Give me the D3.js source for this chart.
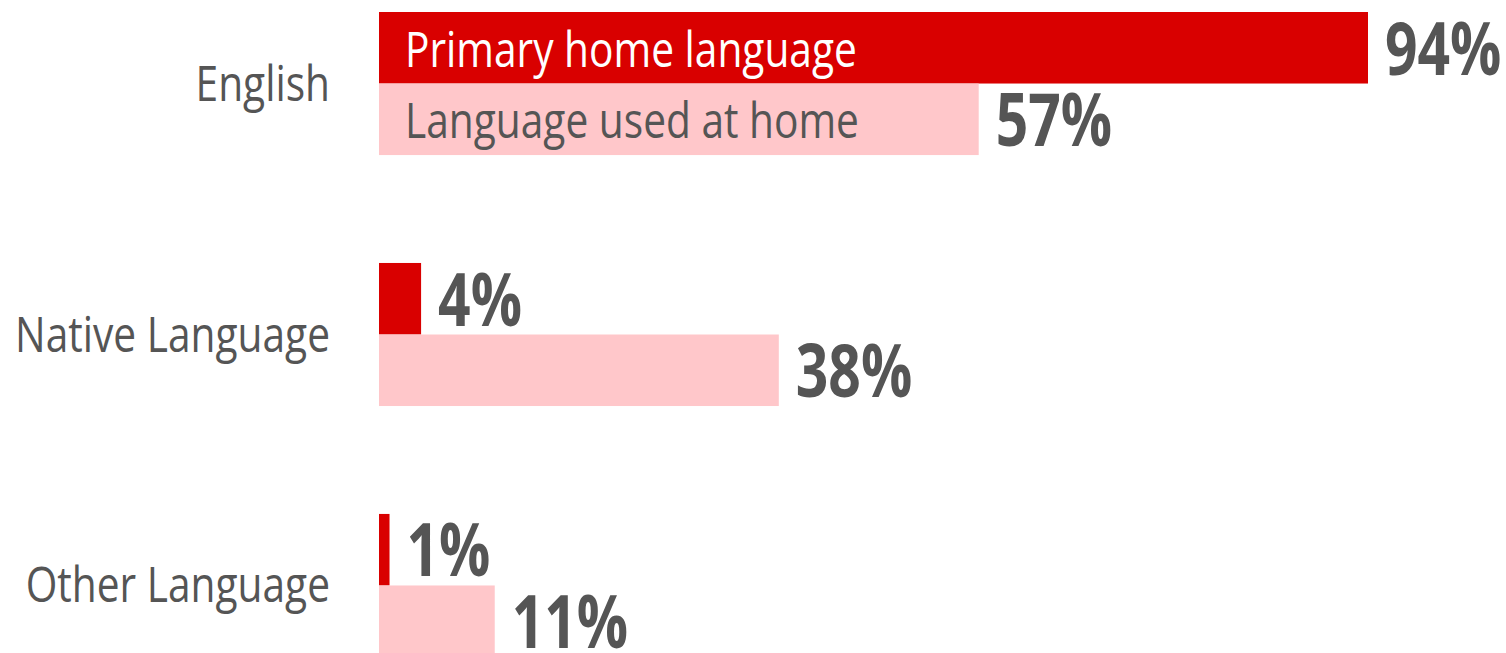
<!DOCTYPE html>
<html>
<head>
<meta charset="utf-8">
<script src="https://cdn.jsdelivr.net/npm/d3@7"></script>
<style>
  body { margin: 0; background: #fff; }
  text { font-family: "Open Sans", sans-serif; }
</style>
</head>
<body>
<script>
var width = 1506;
var height = 653;

// data
var categories = ['English', 'Native Language', 'Other Language'];
var seriesNames = ['Primary home language', 'Language used at home'];
var primaryHome = [94, 4, 1];
var usedAtHome = [57, 38, 11];

var colors = ['#d90000', '#ffc7ca'];
var textGray = '#555555';
var sxBold = 0.78; // horizontal squeeze, source font is narrow
var sxReg = 0.83;

var svg = d3.select('body').append('svg')
    .attr('width', width)
    .attr('height', height);

var x = d3.scaleLinear()
    .domain([0, 94])
    .range([379, 1368]);

var y = d3.scaleBand()
    .domain(categories)
    .range([12, 657])
    .paddingInner(0.43)
    .paddingOuter(0);

var ySeries = d3.scaleBand()
    .domain([0, 1])
    .range([0, y.bandwidth()]);

var rows = categories.map(function(c, i) {
  return { cat: c, values: [primaryHome[i], usedAtHome[i]] };
});

var group = svg.selectAll('g.row')
    .data(rows)
  .enter().append('g')
    .attr('class', 'row')
    .attr('transform', function(d) { return 'translate(0,' + y(d.cat) + ')'; });

// bars
group.selectAll('rect')
    .data(function(d) { return d.values.map(function(v, j) { return { v: v, j: j }; }); })
  .enter().append('rect')
    .attr('x', x(0))
    .attr('y', function(d) { return ySeries(d.j); })
    .attr('width', function(d) { return x(d.v) - x(0); })
    .attr('height', ySeries.bandwidth())
    .attr('fill', function(d) { return colors[d.j]; });

// value labels
group.selectAll('g.val')
    .data(function(d) { return d.values.map(function(v, j) { return { v: v, j: j }; }); })
  .enter().append('g')
    .attr('class', 'val')
    .attr('transform', function(d) {
      return 'translate(' + (x(d.v) + 17) + ',' + (ySeries(d.j) + ySeries.bandwidth() - 9) + ') scale(' + sxBold + ',1)';
    })
  .append('text')
    .attr('font-size', 73)
    .attr('font-weight', 700)
    .attr('fill', textGray)
    .text(function(d) { return d.v + '%'; });

// category labels
group.append('g')
    .attr('transform', 'translate(330,' + (y.bandwidth() / 2 + 17) + ') scale(' + sxReg + ',1)')
  .append('text')
    .attr('text-anchor', 'end')
    .attr('font-size', 49)
    .attr('fill', textGray)
    .text(function(d) { return d.cat; });

// legend written inside the first pair of bars
svg.selectAll('g.legend')
    .data(seriesNames)
  .enter().append('g')
    .attr('class', 'legend')
    .attr('transform', function(d, j) {
      return 'translate(405,' + (y(categories[0]) + ySeries(j) + ySeries.bandwidth() - 17) + ') scale(' + sxReg + ',1)';
    })
  .append('text')
    .attr('font-size', 49)
    .attr('fill', function(d, j) { return j === 0 ? '#ffffff' : textGray; })
    .text(function(d) { return d; });
</script>
</body>
</html>
